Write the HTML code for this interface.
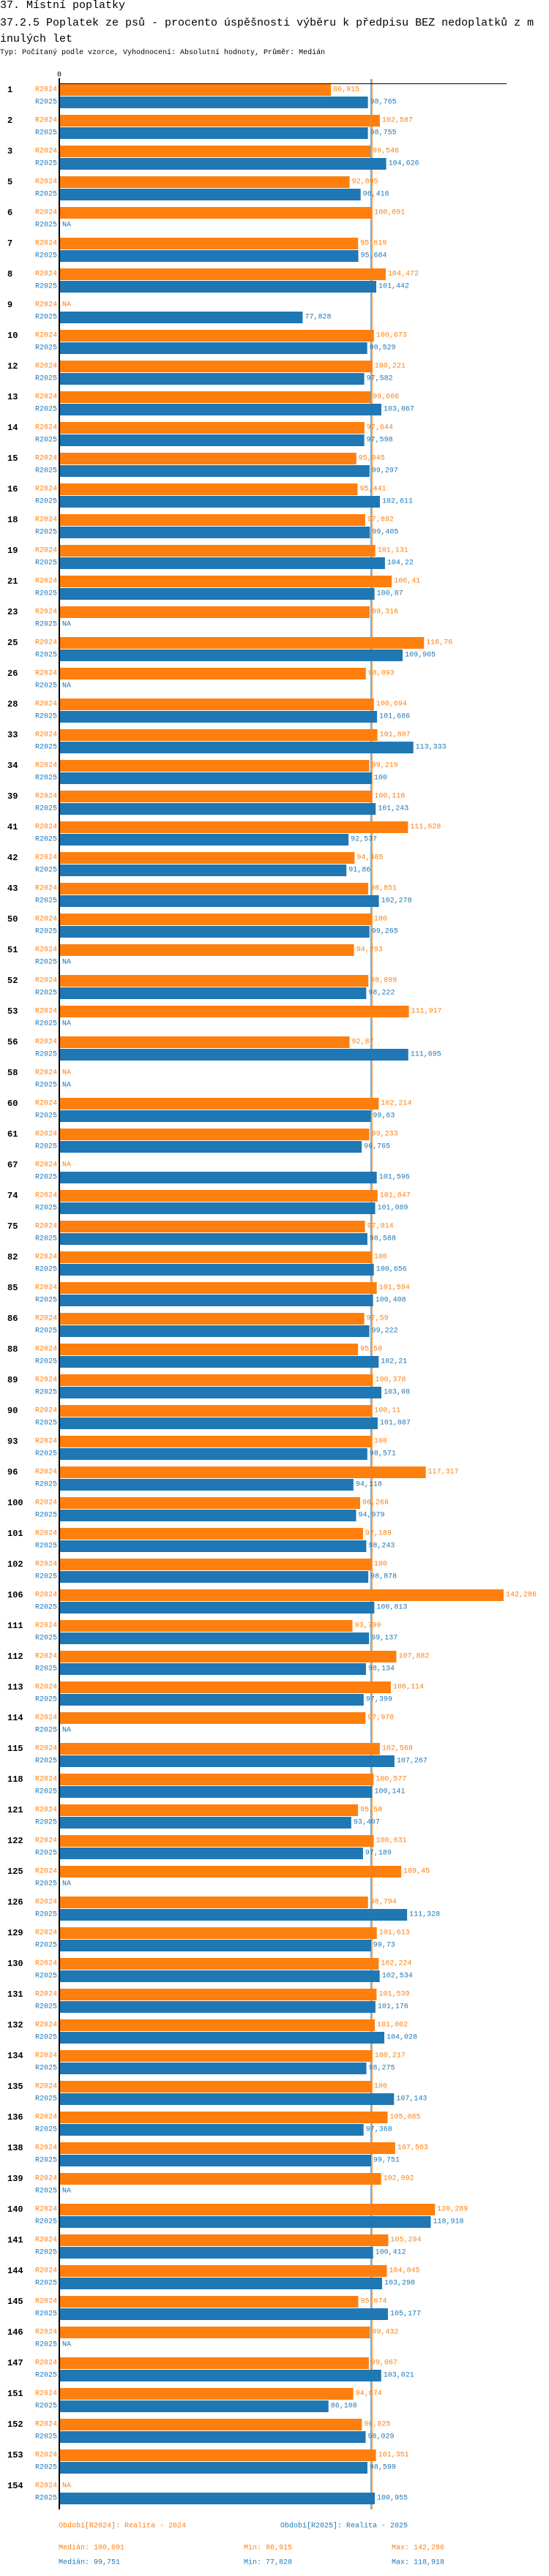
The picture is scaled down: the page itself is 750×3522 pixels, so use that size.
<!DOCTYPE html>
<html><head><meta charset="utf-8">
<style>
html,body{margin:0;padding:0;background:#fff;}
body{width:750px;height:3522px;overflow:hidden;position:relative;font-family:"Liberation Mono","DejaVu Sans Mono",monospace;}
.t{position:absolute;left:0;white-space:nowrap;color:#000;}
</style></head>
<body>
<div class="t" style="top:-1px;font-size:15px;line-height:18px;">37. Místní poplatky</div>
<div class="t" style="top:21px;font-size:15px;line-height:22px;">37.2.5 Poplatek ze psů - procento úspěšnosti výběru k předpisu BEZ nedoplatků z m<br>inulých let</div>
<div class="t" style="top:66px;font-size:10px;line-height:14px;">Typ: Počítaný podle vzorce, Vyhodnocení: Absolutní hodnoty, Průměr: Medián</div>
<svg id="chart" width="750" height="3522" style="position:absolute;left:0;top:0" xmlns="http://www.w3.org/2000/svg"></svg>
<script>
const categories=["1","2","3","5","6","7","8","9","10","12","13","14","15","16","18","19","21","23","25","26","28","33","34","39","41","42","43","50","51","52","53","56","58","60","61","67","74","75","82","85","86","88","89","90","93","96","100","101","102","106","111","112","113","114","115","118","121","122","125","126","129","130","131","132","134","135","136","138","139","140","141","144","145","146","147","151","152","153","154"];
const values2024=[86.915,102.587,99.546,92.895,100.091,95.619,104.472,null,100.673,100.221,99.606,97.644,95.045,95.441,97.892,101.131,106.41,99.316,116.76,98.093,100.694,101.807,99.219,100.116,111.628,94.485,98.851,100,94.293,98.899,111.917,92.87,null,102.214,99.233,null,101.847,97.814,100,101.594,97.59,95.58,100.378,100.11,100,117.317,96.266,97.189,100,142.286,93.799,107.882,106.114,97.978,102.568,100.577,95.58,100.631,109.45,98.794,101.613,102.224,101.539,101.002,100.217,100,105.085,107.503,102.992,120.289,105.294,104.845,95.674,99.432,99.067,94.074,96.825,101.351,null];
const values2025=[98.765,98.755,104.626,96.416,null,95.684,101.442,77.828,98.529,97.582,103.067,97.598,99.297,102.611,99.405,104.22,100.87,null,109.905,null,101.686,113.333,100,101.243,92.537,91.86,102.278,99.265,null,98.222,null,111.695,null,99.63,96.765,101.596,101.089,98.588,100.656,100.408,99.222,102.21,103.08,101.887,98.571,94.118,94.979,98.243,98.878,100.813,99.137,98.134,97.399,null,107.267,100.141,93.407,97.189,null,111.328,99.73,102.534,101.176,104.028,98.275,107.143,97.368,99.751,null,118.918,100.412,103.298,105.177,null,103.021,86.108,98.029,98.599,100.955];
const seriesNames=["R2024","R2025"];
const medians=[100.091,99.751];
const mins=[86.915,77.828];
const maxs=[142.286,118.918];
const legendLabels=["Období[R2024]: Realita - 2024","Období[R2025]: Realita - 2025"];

const NS="http://www.w3.org/2000/svg";
const svg=document.getElementById('chart');
const colors=["#ff7f0e","#1f77b4"];
const X0=82, SCALE=4.259, TOP=115, PITCH=42;
function x(v){return X0+v*SCALE;}
function gy(i){return TOP+i*PITCH;}
function fmt(v){return String(v).replace('.',',');}
function el(tag,attrs,parent){const e=document.createElementNS(NS,tag);for(const k in attrs)e.setAttribute(k,attrs[k]);(parent||svg).appendChild(e);return e;}
function txt(s,attrs){const e=el('text',Object.assign({'font-family':'Liberation Mono, DejaVu Sans Mono, monospace','font-size':10,'dominant-baseline':'central'},attrs));e.textContent=s;return e;}

const bottom=gy(categories.length)-2;
// median lines
medians.forEach((m,k)=>{
  const l=el('line',{x1:x(m),x2:x(m),y1:108,y2:bottom,stroke:colors[k],'stroke-width':1});
  
  
});
// axes
const ax=el('line',{x1:81,x2:692,y1:114.5,y2:114.5,stroke:'#000','stroke-width':1});


const zero=txt('0',{x:81,y:103,'text-anchor':'middle',fill:'#000'});



const series=[values2024,values2025];
categories.forEach((c,i)=>{
  const y0=gy(i);
  const g=txt(c,{x:10,y:y0+8,fill:'#000','font-weight':'bold','font-size':12});
  
  
  series.forEach((vals,k)=>{
    const by=y0+k*17;
    const lab=txt(seriesNames[k],{x:78,y:by+8,'text-anchor':'end',fill:colors[k]});
    
    
    const v=vals[i];
    if(v===null){
      const na=txt('NA',{x:85,y:by+8,fill:colors[k]});
      
      
    } else {
      const r=el('rect',{x:X0,y:by,width:x(v)-X0,height:16,fill:colors[k]});
      
      
      const vl=txt(fmt(v),{x:x(v)+3,y:by+8,fill:colors[k]});
      
      
    }
  });
});
const ay=el('line',{x1:81,x2:81,y1:107,y2:bottom,stroke:'#000','stroke-width':2});



// legend
const lx=[80,383];
legendLabels.forEach((s,k)=>{
  const t=txt(s,{x:lx[k],y:3454,fill:colors[k]});
  
  
});
[0,1].forEach(k=>{
  const yy=3484+k*20;
  const a=txt('Medián: '+fmt(medians[k]),{x:80,y:yy,fill:colors[k]});
  
  
  const b=txt('Min: '+fmt(mins[k]),{x:333,y:yy,fill:colors[k]});
  
  
  const d=txt('Max: '+fmt(maxs[k]),{x:535,y:yy,fill:colors[k]});
  
  
});
</script>
</body></html>
